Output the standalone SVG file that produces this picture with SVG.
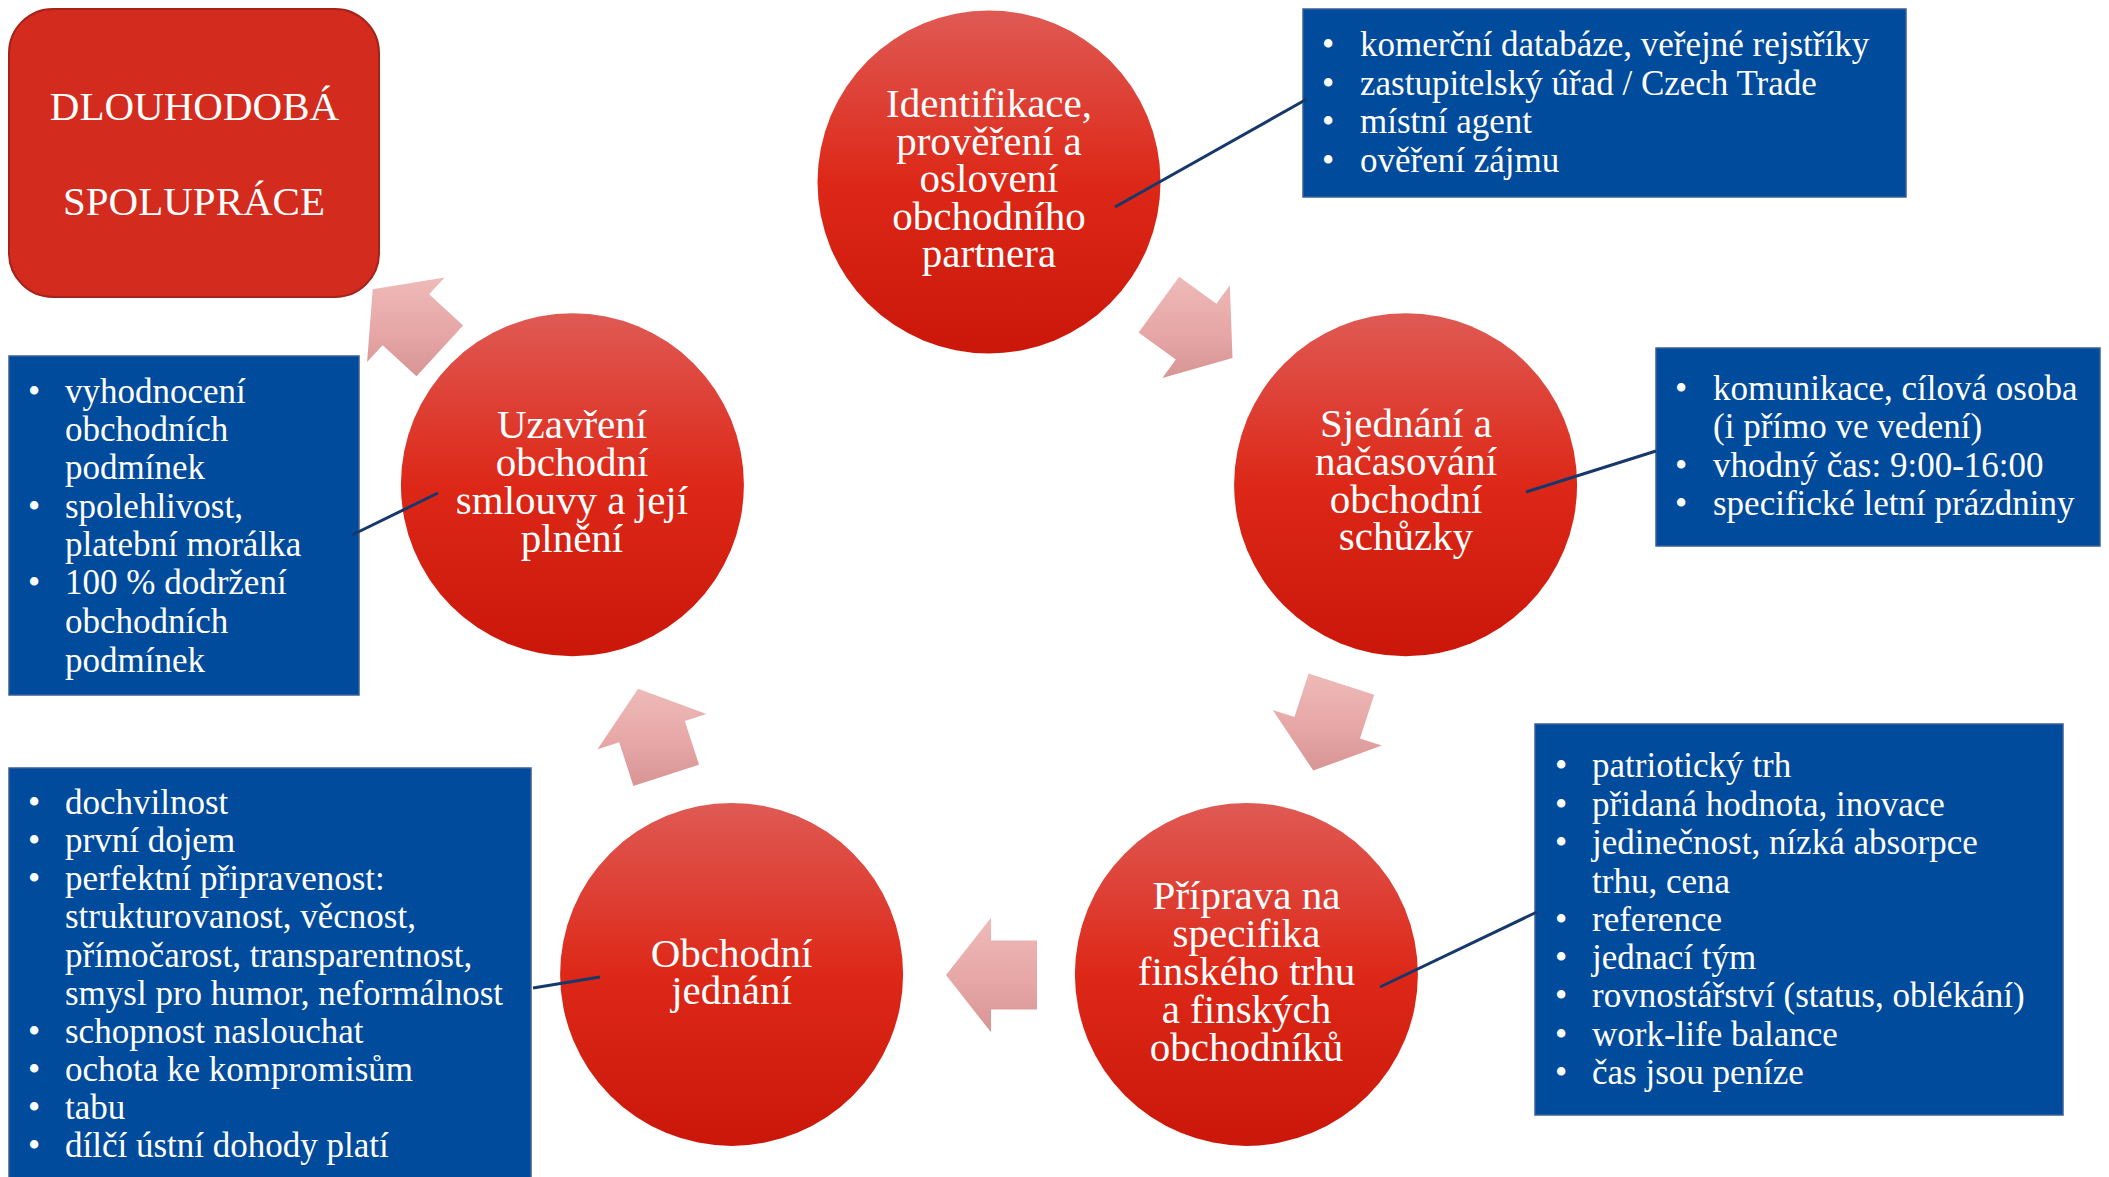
<svg xmlns="http://www.w3.org/2000/svg" width="2109" height="1177" viewBox="0 0 2109 1177">
<defs>
<linearGradient id="gCircle" x1="0" y1="0" x2="0" y2="1">
<stop offset="0" stop-color="#DF5A54"/>
<stop offset="0.5" stop-color="#DD2818"/>
<stop offset="1" stop-color="#CA170A"/>
</linearGradient>
<linearGradient id="gArrow" x1="0" y1="0" x2="0" y2="1">
<stop offset="0" stop-color="#EEBAB8"/>
<stop offset="0.55" stop-color="#E6A7A6"/>
<stop offset="1" stop-color="#D79594"/>
</linearGradient>
<style>
.circ{fill:url(#gCircle);}
.ctext{font-family:"Liberation Serif","Times New Roman",serif;font-size:41px;fill:#FFFFFF;text-anchor:middle;}
.box{fill:#014B9C;stroke:#3A5F96;stroke-width:1.5;}
.btext{font-family:"Liberation Serif","Times New Roman",serif;font-size:35px;fill:#FFFFFF;}
.arrow{fill:url(#gArrow);}
.conn{stroke:#17386B;stroke-width:3;fill:none;}
.title{fill:#D42B1F;stroke:#A4231A;stroke-width:2;}
</style>
</defs>
<rect width="2109" height="1177" fill="#FFFFFF"/>

<g id="node-dlouhodoba">
<rect class="title" x="9" y="9" width="370" height="288" rx="44" ry="44"/>
<text class="ctext" x="194.5" y="120">DLOUHODOBÁ</text>
<text class="ctext" x="194" y="215">SPOLUPRÁCE</text>
</g>

<g id="cycle-arrows">
<polygon class="arrow" points="372.7,289.3 444.6,277.5 429.2,294.3 463.1,325.4 416.5,376.3 382.6,345.2 367.1,362.0"/>
<polygon class="arrow" points="1232.5,358.1 1229.8,285.3 1216.4,303.7 1179.2,276.7 1138.6,332.5 1175.8,359.6 1162.4,378.0"/>
<polygon class="arrow" points="1313.3,770.6 1381.7,745.5 1360.0,738.5 1374.2,694.7 1308.6,673.4 1294.4,717.1 1272.7,710.1"/>
<polygon class="arrow" points="946,975 991,917.7 991,940.5 1037,940.5 1037,1009.5 991,1009.5 991,1032.3"/>
<polygon class="arrow" points="638.1,688.8 597.5,749.3 619.2,742.3 633.4,786.0 699.0,764.7 684.8,720.9 706.5,713.9"/>
</g>

<g id="node-identifikace">
<circle class="circ" cx="989" cy="182" r="171.5"/>
<text class="ctext" x="989" y="117">Identifikace,</text>
<text class="ctext" x="989" y="154.5">prověření a</text>
<text class="ctext" x="989" y="192">oslovení</text>
<text class="ctext" x="989" y="229.5">obchodního</text>
<text class="ctext" x="989" y="267">partnera</text>
</g>

<g id="node-sjednani">
<circle class="circ" cx="1405.6" cy="484.7" r="171.5"/>
<text class="ctext" x="1406" y="437">Sjednání a</text>
<text class="ctext" x="1406" y="475">načasování</text>
<text class="ctext" x="1406" y="513">obchodní</text>
<text class="ctext" x="1406" y="550">schůzky</text>
</g>

<g id="node-priprava">
<circle class="circ" cx="1246.4" cy="974.4" r="171.5"/>
<text class="ctext" x="1246.5" y="909">Příprava na</text>
<text class="ctext" x="1246.5" y="947">specifika</text>
<text class="ctext" x="1246.5" y="985">finského trhu</text>
<text class="ctext" x="1246.5" y="1023">a finských</text>
<text class="ctext" x="1246.5" y="1061">obchodníků</text>
</g>

<g id="node-jednani">
<circle class="circ" cx="731.6" cy="974.4" r="171.5"/>
<text class="ctext" x="731.5" y="967">Obchodní</text>
<text class="ctext" x="731.5" y="1004">jednání</text>
</g>

<g id="node-uzavreni">
<circle class="circ" cx="572.4" cy="484.7" r="171.5"/>
<text class="ctext" x="572" y="438">Uzavření</text>
<text class="ctext" x="572" y="476">obchodní</text>
<text class="ctext" x="572" y="514">smlouvy a její</text>
<text class="ctext" x="572" y="552">plnění</text>
</g>

<g id="box-identifikace">
<rect class="box" x="1303" y="9" width="603" height="188"/>
<g class="btext">
<text x="1322" y="56">•</text><text x="1360" y="56">komerční databáze, veřejné rejstříky</text>
<text x="1322" y="95">•</text><text x="1360" y="95">zastupitelský úřad / Czech Trade</text>
<text x="1322" y="133">•</text><text x="1360" y="133">místní agent</text>
<text x="1322" y="172">•</text><text x="1360" y="172">ověření zájmu</text>
</g>
</g>

<g id="box-sjednani">
<rect class="box" x="1656" y="348" width="444" height="198"/>
<g class="btext">
<text x="1675" y="400">•</text><text x="1713" y="400">komunikace, cílová osoba</text>
<text x="1713" y="438">(i přímo ve vedení)</text>
<text x="1675" y="477">•</text><text x="1713" y="477">vhodný čas: 9:00-16:00</text>
<text x="1675" y="515">•</text><text x="1713" y="515">specifické letní prázdniny</text>
</g>
</g>

<g id="box-priprava">
<rect class="box" x="1535" y="724" width="528" height="391"/>
<g class="btext">
<text x="1555" y="777">•</text><text x="1592" y="777">patriotický trh</text>
<text x="1555" y="816">•</text><text x="1592" y="816">přidaná hodnota, inovace</text>
<text x="1555" y="854">•</text><text x="1592" y="854">jedinečnost, nízká absorpce</text>
<text x="1592" y="893">trhu, cena</text>
<text x="1555" y="931">•</text><text x="1592" y="931">reference</text>
<text x="1555" y="969">•</text><text x="1592" y="969">jednací tým</text>
<text x="1555" y="1007">•</text><text x="1592" y="1007">rovnostářství (status, oblékání)</text>
<text x="1555" y="1046">•</text><text x="1592" y="1046">work-life balance</text>
<text x="1555" y="1084">•</text><text x="1592" y="1084">čas jsou peníze</text>
</g>
</g>

<g id="box-jednani">
<rect class="box" x="9" y="768" width="522" height="430"/>
<g class="btext">
<text x="28" y="814">•</text><text x="65" y="814">dochvilnost</text>
<text x="28" y="852">•</text><text x="65" y="852">první dojem</text>
<text x="28" y="890">•</text><text x="65" y="890">perfektní připravenost:</text>
<text x="65" y="928">strukturovanost, věcnost,</text>
<text x="65" y="967">přímočarost, transparentnost,</text>
<text x="65" y="1005">smysl pro humor, neformálnost</text>
<text x="28" y="1043">•</text><text x="65" y="1043">schopnost naslouchat</text>
<text x="28" y="1081">•</text><text x="65" y="1081">ochota ke kompromisům</text>
<text x="28" y="1119">•</text><text x="65" y="1119">tabu</text>
<text x="28" y="1157">•</text><text x="65" y="1157">dílčí ústní dohody platí</text>
</g>
</g>

<g id="box-uzavreni">
<rect class="box" x="9" y="356" width="350" height="339"/>
<g class="btext">
<text x="28" y="403">•</text><text x="65" y="403">vyhodnocení</text>
<text x="65" y="441">obchodních</text>
<text x="65" y="479">podmínek</text>
<text x="28" y="518">•</text><text x="65" y="518">spolehlivost,</text>
<text x="65" y="556">platební morálka</text>
<text x="28" y="594">•</text><text x="65" y="594">100 % dodržení</text>
<text x="65" y="633">obchodních</text>
<text x="65" y="672">podmínek</text>
</g>
</g>

<g id="connectors">
<line class="conn" x1="1115" y1="207" x2="1307" y2="99"/>
<line class="conn" x1="1526" y1="492" x2="1656" y2="451"/>
<line class="conn" x1="1380" y1="987" x2="1537" y2="912"/>
<line class="conn" x1="533" y1="988" x2="600" y2="977"/>
<line class="conn" x1="352" y1="535" x2="438" y2="493"/>
</g>
</svg>
